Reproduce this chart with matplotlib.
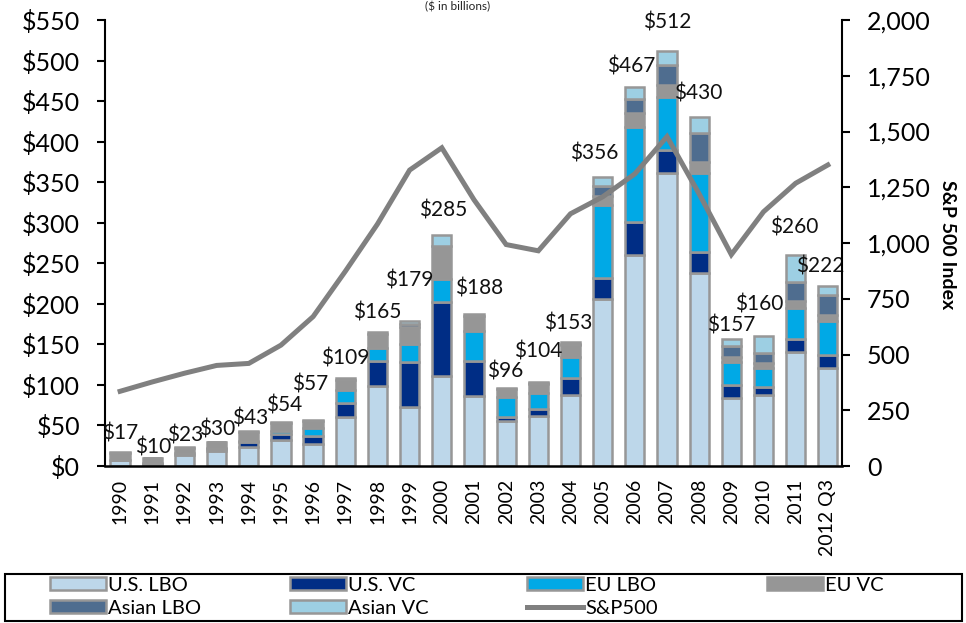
import matplotlib
matplotlib.use("Agg")
import matplotlib.pyplot as plt
from matplotlib.patches import Rectangle, Patch
from matplotlib.lines import Line2D
from matplotlib.ticker import FuncFormatter, MultipleLocator
import numpy as np

plt.rcParams['font.family'] = ['Lato', 'DejaVu Sans']

# ---------------- data ----------------
years = ['1990', '1991', '1992', '1993', '1994', '1995', '1996', '1997', '1998',
         '1999', '2000', '2001', '2002', '2003', '2004', '2005', '2006', '2007',
         '2008', '2009', '2010', '2011', '2012 Q3']
us_lbo = [7, 3, 13, 18, 24, 32, 27, 60, 99, 73, 111, 86, 55, 62, 88, 206, 260, 361, 238, 84, 88, 140, 121]
us_vc = [0, 1, 3, 3, 5, 8, 10, 18, 30, 55, 91, 43, 6, 8, 20, 26, 41, 29, 26, 16, 10, 17, 16]
eu_lbo = [1, 0, 0, 1, 2, 3, 10, 16, 17, 23, 29, 37, 24, 20, 27, 90, 117, 65, 97, 28, 23, 38, 42]
eu_vc = [8, 6, 6, 7, 11, 10, 9, 12, 17, 21, 40, 19, 10, 11, 14, 11, 17, 15, 14, 7, 6, 8, 7]
asian_lbo = [0, 0, 0, 0, 0, 0, 0, 0, 0, 3, 0, 0, 0, 1, 2, 12, 18, 25, 36, 13, 12, 24, 25]
asian_vc = [1, 0, 1, 1, 1, 1, 1, 3, 2, 4, 14, 3, 1, 2, 2, 11, 14, 17, 19, 9, 21, 33, 11]
sp500 = [335, 377, 416, 451, 460, 542, 670, 873, 1085, 1327, 1427, 1194, 993, 965,
         1131, 1207, 1310, 1477, 1220, 948, 1140, 1268, 1350]

series = [('U.S. LBO', us_lbo), ('U.S. VC', us_vc), ('EU LBO', eu_lbo),
          ('EU VC', eu_vc), ('Asian LBO', asian_lbo), ('Asian VC', asian_vc)]

# ---------------- style / layout ----------------
colors = {'U.S. LBO': '#bdd7ea', 'U.S. VC': '#002d85', 'EU LBO': '#00a9e6',
          'EU VC': '#969696', 'Asian LBO': '#4f6d8f', 'Asian VC': '#9dcfe3'}
edge = '#979797'
line_color = '#808080'
# label offsets from bar top (pixels)
label_dx = [0, 1, 1, 1, 1, 3, -3, 0, 0, 0, 1, 5, -1, 0, -2, -8, -4, 0, -1, 0, -4, -1, -8]
label_dy = [19, 10, 12, 12, 13, 17, 35, 19, 20, 40, 24, 25, 17, 30, 18, 24, 21, 28, 24, 13, 32, 28, 19]

W, H = 966, 623
fig = plt.figure(figsize=(W / 100, H / 100), dpi=100)
ax = fig.add_axes([105 / W, (H - 466) / H, (842 - 105) / W, (466 - 20) / H])
ax2 = ax.twinx()

x = np.arange(len(years))
bottom = np.zeros(len(years))
for name, vals in series:
    v = np.array(vals, dtype=float)
    ax.bar(x, v, bottom=bottom, width=0.6, color=colors[name], edgecolor=edge,
           linewidth=1.8, zorder=2)
    bottom += v
totals = bottom

for i, t in enumerate(totals):
    ax.annotate(f"${int(round(t))}", xy=(x[i], t),
                xytext=(label_dx[i] * 0.72, label_dy[i] * 0.72),
                textcoords='offset points', ha='center', va='center',
                fontsize=15, color='#111111', zorder=5)

ax2.plot(x, sp500, color=line_color, linewidth=3.6, solid_joinstyle='miter', zorder=3)

ax.set_xlim(-0.47, len(years) - 1 + 0.44)
ax.set_ylim(0, 550)
ax2.set_ylim(0, 2000)
ax.yaxis.set_major_locator(MultipleLocator(50))
ax2.yaxis.set_major_locator(MultipleLocator(250))
ax.yaxis.set_major_formatter(FuncFormatter(lambda v, p: f"${int(v)}"))
ax2.yaxis.set_major_formatter(FuncFormatter(lambda v, p: f"{int(v):,}"))

ax.set_xticks(x)
ax.set_xticklabels(years, rotation=90, fontsize=14)
ax.tick_params(axis='x', length=0, pad=9)
ax.tick_params(axis='y', direction='out', length=6, width=1.5, labelsize=18, pad=12)
ax2.tick_params(axis='y', direction='out', length=6, width=1.5, labelsize=18, pad=12)

for a in (ax, ax2):
    a.spines['top'].set_visible(False)
ax.spines['right'].set_visible(False)
ax.spines['left'].set_linewidth(1.5)
ax.spines['bottom'].set_linewidth(1.8)
ax2.spines['left'].set_visible(False)
ax2.spines['bottom'].set_visible(False)
ax2.spines['right'].set_linewidth(1.5)

ax2.set_ylabel('S&P 500 Index', rotation=270, fontsize=14, fontweight='bold')
ax2.yaxis.set_label_coords((956 - 105) / (842 - 105), (466 - 245) / (466 - 20))

# small subtitle at the very top
fig.text(458 / W, 1 - 1 / H, '($ in billions)', ha='center', va='top', fontsize=8.5,
         color='#222222')

# ---------------- legend ----------------
frame = Rectangle((5 / W, (H - 621) / H), 957 / W, 47 / H, transform=fig.transFigure,
                  fill=False, edgecolor='black', linewidth=1.5)
fig.add_artist(frame)

def patch(name):
    return Patch(facecolor=colors[name], edgecolor=edge, linewidth=1.8)

cols = [
    [(patch('U.S. LBO'), 'U.S. LBO'), (patch('Asian LBO'), 'Asian LBO')],
    [(patch('U.S. VC'), 'U.S. VC'), (patch('Asian VC'), 'Asian VC')],
    [(patch('EU LBO'), 'EU LBO'), (Line2D([], [], color=line_color, linewidth=3.6), 'S&P500')],
    [(patch('EU VC'), 'EU VC')],
]
col_x = [50, 290, 527, 767]
for cx, entries in zip(col_x, cols):
    fig.legend([e[0] for e in entries], [e[1] for e in entries],
               loc='upper left', bbox_to_anchor=(cx / W, 1 - 577 / H),
               frameon=False, fontsize=14.5, borderpad=0, borderaxespad=0,
               handlelength=2.8, handleheight=0.62, handletextpad=0.1,
               labelspacing=0.3)

fig.savefig('out.png', dpi=100)
